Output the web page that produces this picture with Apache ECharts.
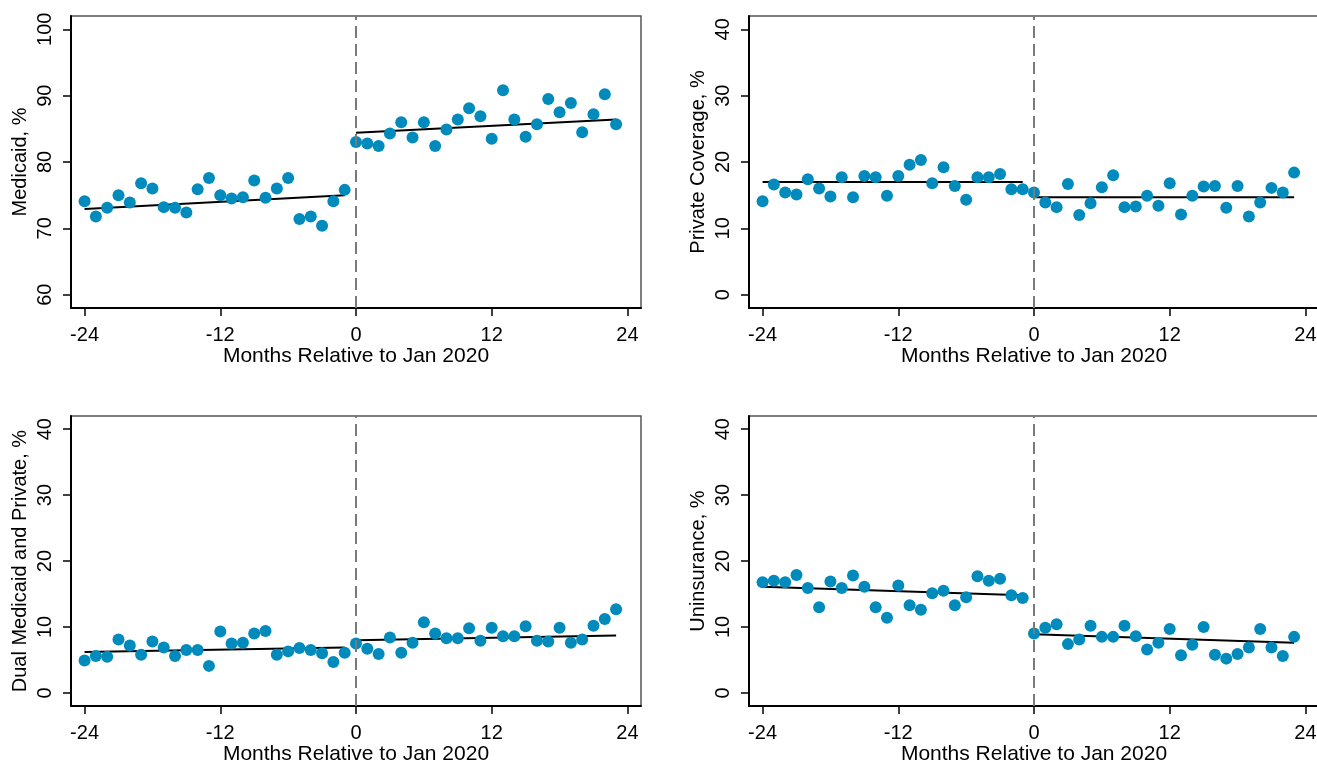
<!DOCTYPE html>
<html>
<head>
<meta charset="utf-8">
<script src="https://cdn.jsdelivr.net/npm/echarts@6/dist/echarts.min.js"></script>
<style>
  html, body { margin: 0; padding: 0; background: #fff; overflow: hidden; }
  #chart { width: 1322px; height: 766px; }
</style>
</head>
<body>
<div id="chart"></div>
<script>
// months relative to Jan 2020
var months = [-24, -23, -22, -21, -20, -19, -18, -17, -16, -15, -14, -13,
              -12, -11, -10, -9, -8, -7, -6, -5, -4, -3, -2, -1,
              0, 1, 2, 3, 4, 5, 6, 7, 8, 9, 10, 11,
              12, 13, 14, 15, 16, 17, 18, 19, 20, 21, 22, 23];

var medicaid = [74.1, 71.8, 73.1, 75.0, 73.9, 76.8, 76.0, 73.2, 73.1, 72.4, 75.9, 77.6,
                75.0, 74.5, 74.7, 77.2, 74.6, 76.0, 77.6, 71.4, 71.8, 70.4, 74.1, 75.8,
                83.0, 82.8, 82.4, 84.3, 86.0, 83.7, 86.0, 82.4, 84.9, 86.4, 88.1, 86.9,
                83.5, 90.8, 86.4, 83.8, 85.7, 89.5, 87.5, 88.9, 84.5, 87.2, 90.2, 85.7];

var privateCov = [14.1, 16.6, 15.4, 15.1, 17.4, 16.0, 14.8, 17.7, 14.7, 17.9, 17.7, 14.9,
                  17.9, 19.6, 20.3, 16.8, 19.2, 16.4, 14.3, 17.7, 17.7, 18.2, 15.9, 15.9,
                  15.4, 13.9, 13.2, 16.7, 12.0, 13.8, 16.2, 18.0, 13.2, 13.3, 14.9, 13.4,
                  16.8, 12.1, 14.9, 16.3, 16.4, 13.1, 16.4, 11.8, 13.9, 16.1, 15.4, 18.4];

var dual = [4.9, 5.6, 5.5, 8.1, 7.2, 5.8, 7.8, 6.9, 5.6, 6.5, 6.5, 4.1,
            9.3, 7.5, 7.6, 9.0, 9.4, 5.8, 6.3, 6.8, 6.5, 6.0, 4.7, 6.1,
            7.5, 6.7, 5.9, 8.4, 6.1, 7.6, 10.7, 9.0, 8.3, 8.3, 9.8, 7.9,
            9.9, 8.6, 8.6, 10.1, 7.9, 7.8, 9.9, 7.6, 8.1, 10.2, 11.2, 12.7];

var uninsured = [16.8, 17.0, 16.8, 17.9, 15.9, 13.0, 16.9, 15.9, 17.8, 16.1, 13.0, 11.4,
                 16.3, 13.3, 12.6, 15.1, 15.5, 13.3, 14.5, 17.7, 17.0, 17.3, 14.8, 14.4,
                 9.0, 9.9, 10.4, 7.4, 8.1, 10.2, 8.5, 8.5, 10.2, 8.6, 6.6, 7.6,
                 9.7, 5.7, 7.3, 10.0, 5.8, 5.2, 5.9, 6.9, 9.7, 6.9, 5.6, 8.5];

// fitted lines: [start, end] for pre (-24..-1) and post (0..23)
var fitPreX = [-24, -1];
var fitPostX = [0, 23];
var medicaidFit = [[72.9, 75.0], [84.4, 86.4]];
var privateFit = [[17.0, 17.0], [14.7, 14.7]];
var dualFit = [[6.2, 6.9], [8.0, 8.7]];
var uninsuredFit = [[16.1, 14.8], [8.9, 7.6]];

var xTicks = [-24, -12, 0, 12, 24];
var medicaidTicks = [60, 70, 80, 90, 100];
var shareTicks = [0, 10, 20, 30, 40];

var panels = [
    { name: 'Medicaid, %', values: medicaid, fit: medicaidFit, ticks: medicaidTicks, min: 58, max: 102 },
    { name: 'Private Coverage, %', values: privateCov, fit: privateFit, ticks: shareTicks, min: -2, max: 42 },
    { name: 'Dual Medicaid and Private, %', values: dual, fit: dualFit, ticks: shareTicks, min: -2, max: 42 },
    { name: 'Uninsurance, %', values: uninsured, fit: uninsuredFit, ticks: shareTicks, min: -2, max: 42 }
];

// the chart is a bit wider than the page so the right column's frame falls off the edge
var gridPos = [[71, 16], [749, 16], [71, 416], [749, 416]];
var font = "'Liberation Sans', Arial, sans-serif";

var grid = [], xAxis = [], yAxis = [], series = [];

panels.forEach(function (p, i) {
    grid.push({
        left: gridPos[i][0], top: gridPos[i][1], width: 570, height: 292,
        show: true, borderColor: '#555', borderWidth: 1.5
    });
    xAxis.push({
        type: 'value', gridIndex: i, min: -25.2, max: 25.2,
        name: 'Months Relative to Jan 2020', nameLocation: 'middle', nameGap: 37,
        nameTextStyle: { fontFamily: font, fontSize: 21, color: '#000' },
        axisLine: { onZero: false, lineStyle: { color: '#000', width: 2 } },
        axisTick: { show: true, inside: false, length: 8, customValues: xTicks, lineStyle: { color: '#000', width: 1.5 } },
        axisLabel: { customValues: xTicks, margin: 17, fontFamily: font, fontSize: 20, color: '#000' },
        splitLine: { show: false }
    });
    yAxis.push({
        type: 'value', gridIndex: i, min: p.min, max: p.max,
        name: p.name, nameLocation: 'middle', nameGap: 41, nameRotate: 90,
        nameTextStyle: { fontFamily: font, fontSize: 20, color: '#000' },
        axisLine: { show: true, onZero: false, lineStyle: { color: '#000', width: 2 } },
        axisTick: { show: true, inside: false, length: 8, customValues: p.ticks, lineStyle: { color: '#000', width: 1.5 } },
        axisLabel: { customValues: p.ticks, rotate: 90, margin: 16, fontFamily: font, fontSize: 20, color: '#000' },
        splitLine: { show: false }
    });
    series.push({
        type: 'line', xAxisIndex: i, yAxisIndex: i, z: 1,
        data: [[fitPreX[0], p.fit[0][0]], [fitPreX[1], p.fit[0][1]]],
        symbol: 'none', lineStyle: { color: '#000', width: 2 }, silent: true,
        markLine: {
            silent: true, symbol: 'none', label: { show: false },
            lineStyle: { color: '#7a7a7a', width: 2, type: [12, 6] },
            data: [{ xAxis: 0 }]
        }
    });
    series.push({
        type: 'line', xAxisIndex: i, yAxisIndex: i, z: 2,
        data: [[fitPostX[0], p.fit[1][0]], [fitPostX[1], p.fit[1][1]]],
        symbol: 'none', lineStyle: { color: '#000', width: 2 }, silent: true
    });
    series.push({
        type: 'scatter', xAxisIndex: i, yAxisIndex: i, z: 3,
        data: months.map(function (m, k) { return [m, p.values[k]]; }),
        symbolSize: 12, itemStyle: { color: '#008bbc', opacity: 1 }
    });
});

var chart = echarts.init(document.getElementById('chart'), null, { renderer: 'canvas' });
chart.setOption({
    animation: false,
    backgroundColor: '#fff',
    grid: grid,
    xAxis: xAxis,
    yAxis: yAxis,
    series: series
});
</script>
</body>
</html>
